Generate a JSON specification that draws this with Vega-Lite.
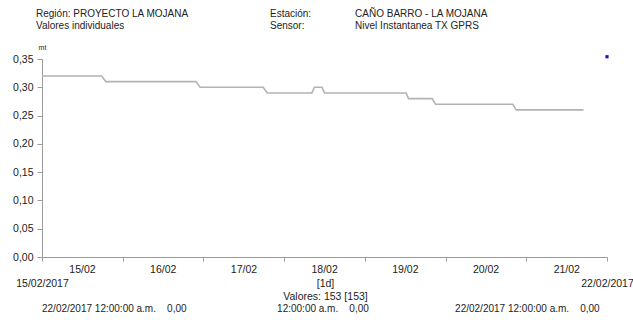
{
  "$schema": "https://vega.github.io/schema/vega-lite/v6.json",
  "width": 565,
  "height": 198,
  "autosize": {"type": "none"},
  "padding": {"left": 42, "top": 59, "right": 26, "bottom": 63},
  "background": "white",
  "config": {
    "view": {"stroke": null},
    "font": "Liberation Sans",
    "axis": {"labelFont": "Liberation Sans", "titleFont": "Liberation Sans", "labelColor": "#222", "titleColor": "#222", "domainColor": "#9a9a9a", "tickColor": "#9a9a9a", "grid": false}
  },
  "datasets": {
    "nivel": [
      {"t": "2017-02-15T00:00", "v": 0.32},
      {"t": "2017-02-15T17:45", "v": 0.32},
      {"t": "2017-02-15T19:00", "v": 0.31},
      {"t": "2017-02-16T21:45", "v": 0.31},
      {"t": "2017-02-16T23:00", "v": 0.30},
      {"t": "2017-02-17T17:45", "v": 0.30},
      {"t": "2017-02-17T19:00", "v": 0.29},
      {"t": "2017-02-18T08:15", "v": 0.29},
      {"t": "2017-02-18T09:00", "v": 0.30},
      {"t": "2017-02-18T11:15", "v": 0.30},
      {"t": "2017-02-18T12:00", "v": 0.29},
      {"t": "2017-02-19T12:15", "v": 0.29},
      {"t": "2017-02-19T13:00", "v": 0.28},
      {"t": "2017-02-19T20:00", "v": 0.28},
      {"t": "2017-02-19T21:00", "v": 0.27},
      {"t": "2017-02-20T20:00", "v": 0.27},
      {"t": "2017-02-20T21:00", "v": 0.26},
      {"t": "2017-02-21T17:00", "v": 0.26}
    ],
    "marca": [
      {"t": "2017-02-22T00:00", "v": 0.354}
    ],
    "notas": [
      {"t": "2017-02-14T22:13", "v": 0.4295, "label": "Región: PROYECTO LA MOJANA"},
      {"t": "2017-02-14T22:13", "v": 0.4083, "label": "Valores individuales"},
      {"t": "2017-02-17T19:48", "v": 0.4295, "label": "Estación:"},
      {"t": "2017-02-17T19:48", "v": 0.4083, "label": "Sensor:"},
      {"t": "2017-02-18T21:06", "v": 0.4295, "label": "CAÑO BARRO - LA MOJANA"},
      {"t": "2017-02-18T21:06", "v": 0.4083, "label": "Nivel Instantanea TX GPRS"},
      {"t": "2017-02-15T00:00", "v": -0.0919, "label": "22/02/2017 12:00:00 a.m.\u00a0\u00a0\u00a0 0,00"},
      {"t": "2017-02-17T21:54", "v": -0.0919, "label": "12:00:00 a.m.\u00a0\u00a0\u00a0 0,00"},
      {"t": "2017-02-20T02:50", "v": -0.0919, "label": "22/02/2017 12:00:00 a.m.\u00a0\u00a0\u00a0 0,00"}
    ]
  },
  "encoding": {
    "y": {
      "field": "v",
      "type": "quantitative",
      "scale": {"domain": [0, 0.35], "nice": false, "zero": false},
      "axis": {
        "values": [0, 0.05, 0.1, 0.15, 0.2, 0.25, 0.3, 0.35],
        "labelExpr": "replace(format(datum.value, '.2f'), '.', ',')",
        "labelFontSize": 10.5,
        "tickSize": 5,
        "labelPadding": 4,
        "title": "mt",
        "titleAngle": 0,
        "titleX": 0,
        "titleY": -12,
        "titleAlign": "center",
        "titleBaseline": "middle",
        "titleFontSize": 7,
        "titleFontWeight": "normal"
      }
    }
  },
  "layer": [
    {
      "data": {"name": "nivel"},
      "mark": {"type": "line", "color": "#b3b3b3", "strokeWidth": 1.6},
      "encoding": {
        "x": {
          "field": "t",
          "type": "temporal",
          "scale": {"domain": [{"year": 2017, "month": 2, "date": 15}, {"year": 2017, "month": 2, "date": 22}], "nice": false},
          "axis": {
            "orient": "bottom",
            "values": [
              {"year": 2017, "month": 2, "date": 15}, {"year": 2017, "month": 2, "date": 16},
              {"year": 2017, "month": 2, "date": 17}, {"year": 2017, "month": 2, "date": 18},
              {"year": 2017, "month": 2, "date": 19}, {"year": 2017, "month": 2, "date": 20},
              {"year": 2017, "month": 2, "date": 21}, {"year": 2017, "month": 2, "date": 22}
            ],
            "labelExpr": "datum.value >= datetime(2017, 1, 22) ? '' : timeFormat(datum.value, '%d/%m')",
            "labelOffset": 40,
            "labelFontSize": 10.5,
            "labelOverlap": false,
            "labelBound": false,
            "labelFlush": false,
            "ticks": true,
            "tickSize": 4,
            "labelPadding": 3,
            "title": null
          }
        }
      }
    },
    {
      "data": {"name": "marca"},
      "mark": {"type": "point", "shape": "square", "filled": true, "color": "#1414c8", "size": 10, "opacity": 1},
      "encoding": {
        "x": {
          "field": "t",
          "type": "temporal",
          "scale": {"domain": [{"year": 2017, "month": 2, "date": 15}, {"year": 2017, "month": 2, "date": 22}], "nice": false},
          "axis": {
            "orient": "bottom",
            "values": [{"year": 2017, "month": 2, "date": 15}, {"year": 2017, "month": 2, "date": 22}],
            "format": "%d/%m/%Y",
            "labelFontSize": 10.5,
            "labelOverlap": false,
            "labelBound": false,
            "labelFlush": false,
            "ticks": false,
            "tickSize": 0,
            "domain": false,
            "labelPadding": 21,
            "title": ["[1d]", "Valores: 153 [153]"],
            "titleFontSize": 10.5,
            "titleFontWeight": "normal",
            "titleLineHeight": 13.5,
            "titleX": 283,
            "titleY": 21,
            "titleAlign": "center",
            "titleBaseline": "top"
          }
        }
      }
    },
    {
      "data": {"name": "notas"},
      "mark": {"type": "text", "align": "left", "baseline": "middle", "fontSize": 10, "color": "#222", "font": "Liberation Sans"},
      "encoding": {
        "x": {
          "field": "t",
          "type": "temporal",
          "scale": {"domain": [{"year": 2017, "month": 2, "date": 15}, {"year": 2017, "month": 2, "date": 22}], "nice": false},
          "axis": null
        },
        "text": {"field": "label", "type": "nominal"}
      }
    }
  ],
  "resolve": {"axis": {"x": "independent"}, "scale": {"x": "shared", "y": "shared"}}
}
